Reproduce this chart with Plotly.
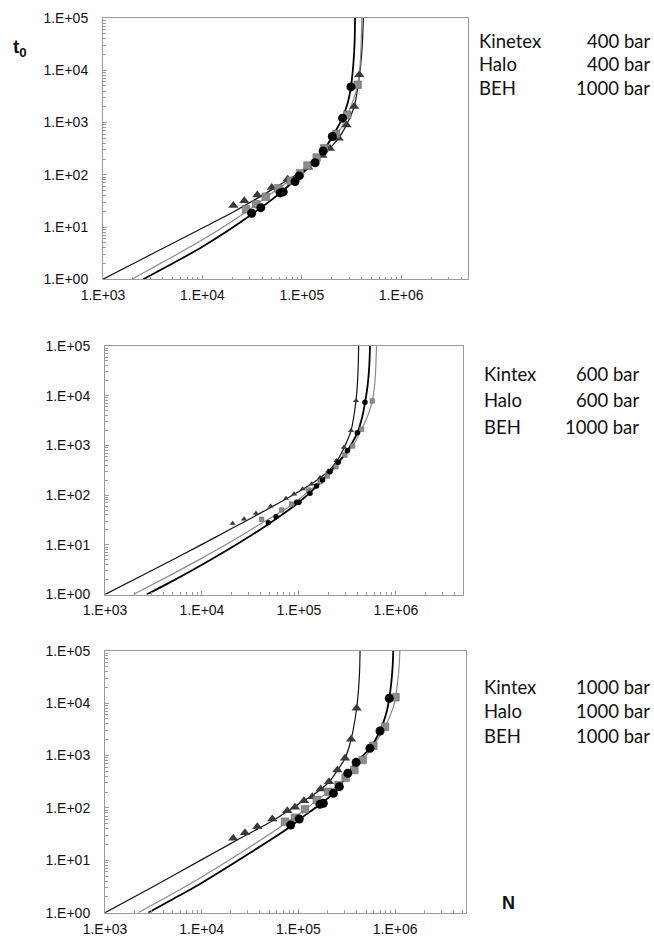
import plotly.graph_objects as go

W, H = 654, 938

# ---------------- data: top panel (Kinetex 400, Halo 400, BEH 1000) ----------------
top_kin_N = [2.05e4, 2.64e4, 3.57e4, 4.98e4, 7.2e4, 1.16e5, 1.34e5, 1.61e5, 1.92e5, 2.35e5, 2.82e5, 3.37e5, 3.79e5]
top_kin_t = [25.7, 32, 41, 57, 82, 140, 175, 235, 320, 500, 900, 2030, 8200]
top_halo_N = [2.75e4, 3.46e4, 4.34e4, 5.81e4, 7.73e4, 9.59e4, 1.14e5, 1.41e5, 1.68e5, 2.21e5, 2.87e5, 3.65e5]
top_halo_t = [21.9, 27.3, 38, 55, 77, 107, 150, 214, 323, 600, 1405, 5280]
top_beh_N = [3.13e4, 3.87e4, 6.04e4, 6.5e4, 8.55e4, 9.4e4, 1.36e5, 1.64e5, 2.03e5, 2.57e5, 3.12e5]
top_beh_t = [18.4, 23.5, 45, 47, 74, 95, 170, 285, 540, 1210, 4800]

top_kin_curve_N = [1e3, 3e3, 1e4, 2e4, 5e4, 1e5, 1.5e5, 2e5, 2.5e5, 3e5, 3.4e5, 3.8e5, 4e5, 4.1e5, 4.16e5]
top_kin_curve_t = [1, 2.95, 9.6, 19, 52, 118, 215, 350, 600, 1150, 2150, 8000, 2e4, 4.5e4, 1e5]
top_halo_curve_N = [1.95e3, 5e3, 1e4, 2.7e4, 5e4, 1e5, 1.5e5, 2e5, 2.5e5, 2.9e5, 3.3e5, 3.65e5, 3.85e5, 3.96e5, 4.01e5]
top_halo_curve_t = [1, 2.7, 5.7, 19, 45, 113, 240, 470, 800, 1450, 2700, 5300, 1.2e4, 3.5e4, 1e5]
top_beh_curve_N = [2.54e3, 5e3, 1e4, 3e4, 6e4, 1e5, 1.5e5, 2e5, 2.5e5, 2.9e5, 3.12e5, 3.3e5, 3.4e5, 3.43e5]
top_beh_curve_t = [1, 2.0, 4.2, 16.5, 44, 105, 220, 520, 1100, 2400, 4800, 1.3e4, 3.5e4, 1e5]

# ---------------- data: middle panel (Kintex 600, Halo 600, BEH 1000) ----------------
mid_kin_N = [2.07e4, 2.71e4, 3.6e4, 5.1e4, 7.35e4, 8.9e4, 1.09e5, 1.35e5, 1.65e5, 2.0e5, 2.44e5, 2.91e5, 3.44e5, 3.87e5]
mid_kin_t = [27, 33, 43, 60, 86, 105, 133, 167, 224, 305, 492, 916, 1976, 7940]
mid_halo_N = [4.12e4, 6.64e4, 8.4e4, 1.25e5, 1.65e5, 1.96e5, 2.41e5, 2.98e5, 3.57e5, 4.42e5, 5.7e5]
mid_halo_t = [32.6, 50, 66, 127, 186, 242, 373, 641, 972, 2110, 7820]
mid_beh_N = [4.83e4, 5.8e4, 9.46e4, 1.0e5, 1.3e5, 1.52e5, 1.75e5, 2.09e5, 2.54e5, 3.15e5, 3.99e5, 4.79e5]
mid_beh_t = [27.9, 36.8, 71.6, 71.6, 109, 152, 201, 296, 457, 783, 1800, 7360]

mid_kin_curve_N = [1e3, 3e3, 1e4, 2e4, 5e4, 1e5, 1.5e5, 2e5, 2.5e5, 2.9e5, 3.44e5, 3.87e5, 4.0e5, 4.08e5, 4.12e5]
mid_kin_curve_t = [1, 3.0, 10.2, 21, 55, 118, 195, 300, 510, 880, 1980, 7900, 1.7e4, 4e4, 1e5]
mid_halo_curve_N = [1.96e3, 5e3, 1e4, 2e4, 4.1e4, 8.4e4, 1.25e5, 1.65e5, 2.41e5, 2.98e5, 3.57e5, 4.42e5, 5.2e5, 5.7e5, 6.05e5, 6.2e5, 6.3e5]
mid_halo_curve_t = [1, 2.6, 5.4, 11.6, 27, 63, 118, 185, 370, 640, 970, 2100, 4300, 7800, 1.8e4, 4e4, 1e5]
mid_beh_curve_N = [2.69e3, 5e3, 1e4, 2.5e4, 4.83e4, 1e5, 1.52e5, 2.09e5, 2.54e5, 3.15e5, 4e5, 4.5e5, 4.8e5, 5.1e5, 5.3e5, 5.4e5]
mid_beh_curve_t = [1, 1.88, 3.98, 11.4, 26, 72, 150, 296, 457, 783, 1800, 3800, 7300, 1.6e4, 3.8e4, 1e5]

# ---------------- data: bottom panel (all 1000 bar) ----------------
bot_kin_N = [2.12e4, 2.8e4, 3.76e4, 5.37e4, 7.68e4, 9.22e4, 1.14e5, 1.39e5, 1.7e5, 2.07e5, 2.53e5, 3.03e5, 3.5e5, 4.0e5]
bot_kin_t = [26.3, 33.6, 43.8, 61.4, 88.5, 103, 137, 164, 230, 316, 528, 885, 2040, 7960]
bot_halo_N = [7.26e4, 9.22e4, 1.17e5, 1.55e5, 2.04e5, 2.59e5, 3.08e5, 3.79e5, 4.62e5, 5.96e5, 7.87e5, 1.01e6]
bot_halo_t = [54.6, 65, 94, 141, 204, 273, 377, 529, 820, 1538, 3548, 12900]
bot_beh_N = [8.32e4, 1.02e5, 1.67e5, 1.81e5, 2.3e5, 2.65e5, 3.24e5, 3.95e5, 5.5e5, 6.98e5, 8.71e5]
bot_beh_t = [47.2, 61.4, 117, 122, 190, 254, 457, 741, 1372, 2936, 12400]

bot_kin_curve_N = [1e3, 3e3, 1e4, 2.1e4, 5.4e4, 1e5, 1.5e5, 2.07e5, 2.53e5, 3.03e5, 3.5e5, 4e5, 4.2e5, 4.3e5, 4.34e5]
bot_kin_curve_t = [1, 3.0, 10.3, 22, 57, 118, 190, 312, 520, 880, 2000, 7900, 2e4, 4.5e4, 1e5]
bot_halo_curve_N = [2.21e3, 5e3, 1e4, 3e4, 7.26e4, 1.17e5, 1.55e5, 2.04e5, 2.59e5, 3.08e5, 3.79e5, 4.62e5, 5.96e5, 7.87e5, 9.5e5, 1.01e6, 1.07e6, 1.1e6, 1.12e6]
bot_halo_curve_t = [1, 2.3, 4.8, 17, 50, 92, 140, 200, 270, 375, 530, 820, 1540, 3550, 8000, 1.29e4, 2.8e4, 5e4, 1e5]
bot_beh_curve_N = [2.8e3, 5e3, 1e4, 3e4, 8.32e4, 1.02e5, 1.67e5, 2.3e5, 2.65e5, 3.24e5, 3.95e5, 5.5e5, 6.98e5, 8.2e5, 8.71e5, 9.2e5, 9.45e5, 9.57e5]
bot_beh_curve_t = [1, 1.8, 3.7, 13, 44, 60, 116, 190, 254, 457, 741, 1372, 2936, 7000, 1.24e4, 2.8e4, 5.5e4, 1e5]

x_tickvals = [1e3, 1e4, 1e5, 1e6]
x_ticktext = ["1.E+03", "1.E+04", "1.E+05", "1.E+06"]
y_tickvals = [1, 10, 100, 1e3, 1e4, 1e5]
y_ticktext = ["1.E+00", "1.E+01", "1.E+02", "1.E+03", "1.E+04", "1.E+05"]

top_labels = [("Kinetex", "400 bar"), ("Halo", "400 bar"), ("BEH", "1000 bar")]
mid_labels = [("Kintex", "600 bar"), ("Halo", "600 bar"), ("BEH", "1000 bar")]
bot_labels = [("Kintex", "1000 bar"), ("Halo", "1000 bar"), ("BEH", "1000 bar")]

# ---------------- layout geometry (pixels) ----------------
panels = [
    dict(x0=103, x1=468, yt=18, yb=279.3, xr=6.672, ms=1.0,
         data=(top_kin_N, top_kin_t, top_halo_N, top_halo_t, top_beh_N, top_beh_t),
         curves=(top_kin_curve_N, top_kin_curve_t, top_halo_curve_N, top_halo_curve_t, top_beh_curve_N, top_beh_curve_t),
         labels=top_labels, lx=477, rx=652, ly=[41, 64.5, 88]),
    dict(x0=105, x1=463, yt=346, yb=594.5, xr=6.691, ms=0.6,
         data=(mid_kin_N, mid_kin_t, mid_halo_N, mid_halo_t, mid_beh_N, mid_beh_t),
         curves=(mid_kin_curve_N, mid_kin_curve_t, mid_halo_curve_N, mid_halo_curve_t, mid_beh_curve_N, mid_beh_curve_t),
         labels=mid_labels, lx=482, rx=641, ly=[374, 400, 427]),
    dict(x0=105, x1=466, yt=650.7, yb=912.7, xr=6.733, ms=1.0,
         data=(bot_kin_N, bot_kin_t, bot_halo_N, bot_halo_t, bot_beh_N, bot_beh_t),
         curves=(bot_kin_curve_N, bot_kin_curve_t, bot_halo_curve_N, bot_halo_curve_t, bot_beh_curve_N, bot_beh_curve_t),
         labels=bot_labels, lx=482, rx=652, ly=[687, 711, 736]),
]

fig = go.Figure()
annotations = []
tick_font = dict(family="Liberation Sans, Arial", size=14, color="#111")
lab_font = dict(family="Lato, Noto Sans", size=18.5, color="#111")

for i, p in enumerate(panels):
    sfx = "" if i == 0 else str(i + 1)
    xa, ya = "x" + sfx, "y" + sfx
    kN, kt, hN, ht, bN, bt = p["data"]
    ckN, ckt, chN, cht, cbN, cbt = p["curves"]
    ms = p["ms"]
    fig.add_trace(go.Scatter(x=ckN, y=ckt, mode="lines", line=dict(color="#111", width=1.2, shape="spline", smoothing=0.8),
                             xaxis=xa, yaxis=ya, showlegend=False, hoverinfo="skip"))
    fig.add_trace(go.Scatter(x=chN, y=cht, mode="lines", line=dict(color="#8a8a8a", width=1.2, shape="spline", smoothing=0.8),
                             xaxis=xa, yaxis=ya, showlegend=False, hoverinfo="skip"))
    fig.add_trace(go.Scatter(x=cbN, y=cbt, mode="lines", line=dict(color="#000", width=1.8, shape="spline", smoothing=0.8),
                             xaxis=xa, yaxis=ya, showlegend=False, hoverinfo="skip"))
    fig.add_trace(go.Scatter(x=kN, y=kt, mode="markers",
                             marker=dict(symbol="triangle-up", size=9 * ms, color="#3a3a3a", line=dict(width=0)),
                             xaxis=xa, yaxis=ya, showlegend=False))
    fig.add_trace(go.Scatter(x=hN, y=ht, mode="markers",
                             marker=dict(symbol="square", size=7.5 * ms, color="#8c8c8c", line=dict(width=0.6, color="#6a6a6a")),
                             xaxis=xa, yaxis=ya, showlegend=False))
    fig.add_trace(go.Scatter(x=bN, y=bt, mode="markers",
                             marker=dict(symbol="circle", size=9 * ms, color="#000", line=dict(width=0)),
                             xaxis=xa, yaxis=ya, showlegend=False))

    axis_common = dict(type="log", showline=True, linecolor="#9a9a9a", linewidth=1, mirror=True,
                       showgrid=False, zeroline=False, ticks="inside", ticklen=4, tickcolor="#9a9a9a",
                       tickfont=tick_font, tickmode="array", automargin=False,
                       minor=dict(ticks="inside", ticklen=2.5, tickcolor="#9a9a9a", dtick="D1", showgrid=False))
    xdom = [p["x0"] / W, p["x1"] / W]
    ydom = [1 - p["yb"] / H, 1 - p["yt"] / H]
    fig.update_layout(**{
        "xaxis" + sfx: dict(axis_common, domain=xdom, range=[3, p["xr"]], tickvals=x_tickvals, ticktext=x_ticktext,
                            anchor=ya, ticklabelstandoff=3),
        "yaxis" + sfx: dict(axis_common, domain=ydom, range=[0, 5], tickvals=y_tickvals, ticktext=y_ticktext,
                            anchor=xa, ticklabelstandoff=11),
    })
    for (name, bar), yy in zip(p["labels"], p["ly"]):
        annotations.append(dict(text=name, x=p["lx"] / W, y=1 - yy / H, xref="paper", yref="paper",
                                xanchor="left", yanchor="middle", showarrow=False, font=lab_font))
        annotations.append(dict(text=bar, x=p["rx"] / W, y=1 - yy / H, xref="paper", yref="paper",
                                xanchor="right", yanchor="middle", showarrow=False, font=lab_font))

annotations.append(dict(text="<b>t<sub>0</sub></b>", x=11 / W, y=1 - 48 / H, xref="paper", yref="paper",
                        xanchor="left", yanchor="middle", showarrow=False,
                        font=dict(family="Liberation Sans, Arial", size=19, color="#111")))
annotations.append(dict(text="<b>N</b>", x=508 / W, y=1 - 903 / H, xref="paper", yref="paper",
                        xanchor="center", yanchor="middle", showarrow=False,
                        font=dict(family="Liberation Sans, Arial", size=18, color="#111")))

fig.update_layout(width=W, height=H, margin=dict(l=0, r=0, t=0, b=0),
                  paper_bgcolor="white", plot_bgcolor="white", showlegend=False,
                  annotations=annotations)

fig.write_html("out.html")
